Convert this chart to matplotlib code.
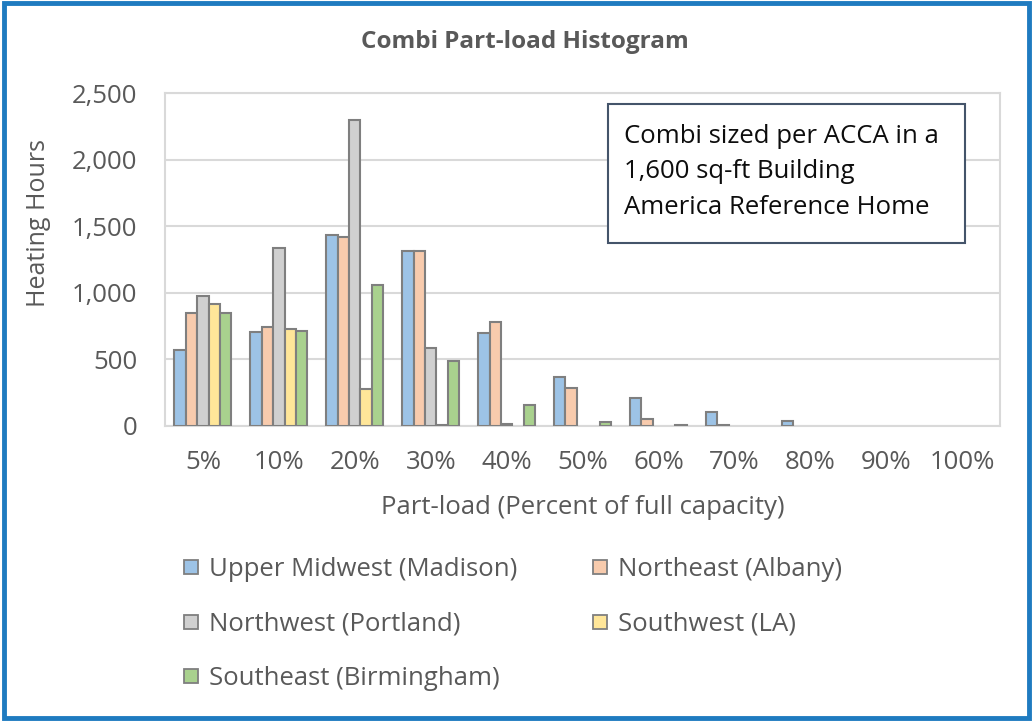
import matplotlib.pyplot as plt
import matplotlib.patches as patches
from matplotlib.lines import Line2D
import numpy as np

plt.rcParams['font.family'] = ['Open Sans', 'DejaVu Sans']

# data
categories = ['5%', '10%', '20%', '30%', '40%', '50%', '60%', '70%', '80%', '90%', '100%']
madison = [570, 707, 1435, 1315, 695, 370, 213, 108, 38, 0, 0]
albany = [845, 745, 1420, 1315, 778, 283, 52, 8, 0, 0, 0]
portland = [977, 1335, 2300, 583, 15, 0, 0, 0, 0, 0, 0]
la = [915, 730, 275, 5, 0, 0, 0, 0, 0, 0, 0]
birmingham = [845, 715, 1060, 490, 157, 28, 10, 0, 0, 0, 0]

series = [
    ('Upper Midwest (Madison)', madison, '#9DC3E6'),
    ('Northeast (Albany)', albany, '#F8CBAD'),
    ('Northwest (Portland)', portland, '#D0D0D0'),
    ('Southwest (LA)', la, '#FFE699'),
    ('Southeast (Birmingham)', birmingham, '#A9D18E'),
]

text_color = '#595959'
grid_color = '#D9D9D9'
edge = '#7F7F7F'
W, H = 1033, 721

fig = plt.figure(figsize=(10.33, 7.21), dpi=100)
ax = fig.add_axes([165 / W, 1 - 426 / H, 835 / W, 333 / H])

x = np.arange(len(categories))
width = 0.15
for i, (name, vals, col) in enumerate(series):
    b = ax.bar(x + (i - 2) * width, vals, width, color=col, edgecolor=edge,
               linewidth=1.5, label=name, zorder=3)
    # excel draws nothing for zero-height bars
    for p in b.patches:
        if p.get_height() == 0:
            p.set_visible(False)

ax.set_xlim(-0.5, len(categories) - 0.5)
ax.set_ylim(0, 2500)
ax.set_yticks(np.arange(0, 2501, 500))
ax.set_yticklabels(['{:,}'.format(v) for v in range(0, 2501, 500)])
ax.set_xticks(x)
ax.set_xticklabels(categories)
ax.tick_params(length=0, labelsize=18.5, colors=text_color)
ax.tick_params(axis='x', pad=17)
ax.tick_params(axis='y', pad=20)
ax.grid(axis='y', color=grid_color, linewidth=1.5, zorder=0)
for s in ax.spines.values():
    s.set_color(grid_color)
    s.set_linewidth(1.5)

fig.text(39 / W, 1 - 223 / H, 'Heating Hours', rotation=90, ha='center', va='center',
         fontsize=18, color=text_color)
fig.text(583 / W, 1 - 508 / H, 'Part-load (Percent of full capacity)', ha='center', va='center',
         fontsize=18.5, color=text_color)

fig.text(525 / W, 1 - 42 / H, 'Combi Part-load Histogram', ha='center', va='center',
         fontsize=17.5, fontweight='bold', color=text_color)

# annotation box
fig.patches.append(patches.Rectangle((608 / W, 1 - 243 / H), 357 / W, 139 / H,
                                     transform=fig.transFigure, facecolor='white',
                                     edgecolor='#44546A', linewidth=1.5, zorder=5))
fig.text(624 / W, 1 - 172 / H,
         'Combi sized per ACCA in a\n1,600 sq-ft Building\nAmerica Reference Home',
         ha='left', va='center', fontsize=18.5, color='#0D0D0D', linespacing=1.55, zorder=6)

# legend with square swatches, row-wise order like excel
order = [0, 2, 4, 1, 3]
handles = [Line2D([], [], marker='s', linestyle='none', markersize=10,
                  markerfacecolor=series[i][2], markeredgecolor=edge, markeredgewidth=1.3)
           for i in order]
labels = [series[i][0] for i in order]
leg = fig.legend(handles, labels, loc='upper left', bbox_to_anchor=(161 / W, 1 - 534 / H),
                 ncol=2, frameon=False, fontsize=18.5, labelspacing=1.15, columnspacing=3.0,
                 handlelength=0.5, handletextpad=0.45)
for t in leg.get_texts():
    t.set_color(text_color)

# blue outer frame
fig.patches.append(patches.Rectangle((0.004, 0.004), 0.992, 0.992, transform=fig.transFigure,
                                     fill=False, edgecolor='#1F7BC0', linewidth=3.5))

fig.savefig('out.png', dpi=100)
